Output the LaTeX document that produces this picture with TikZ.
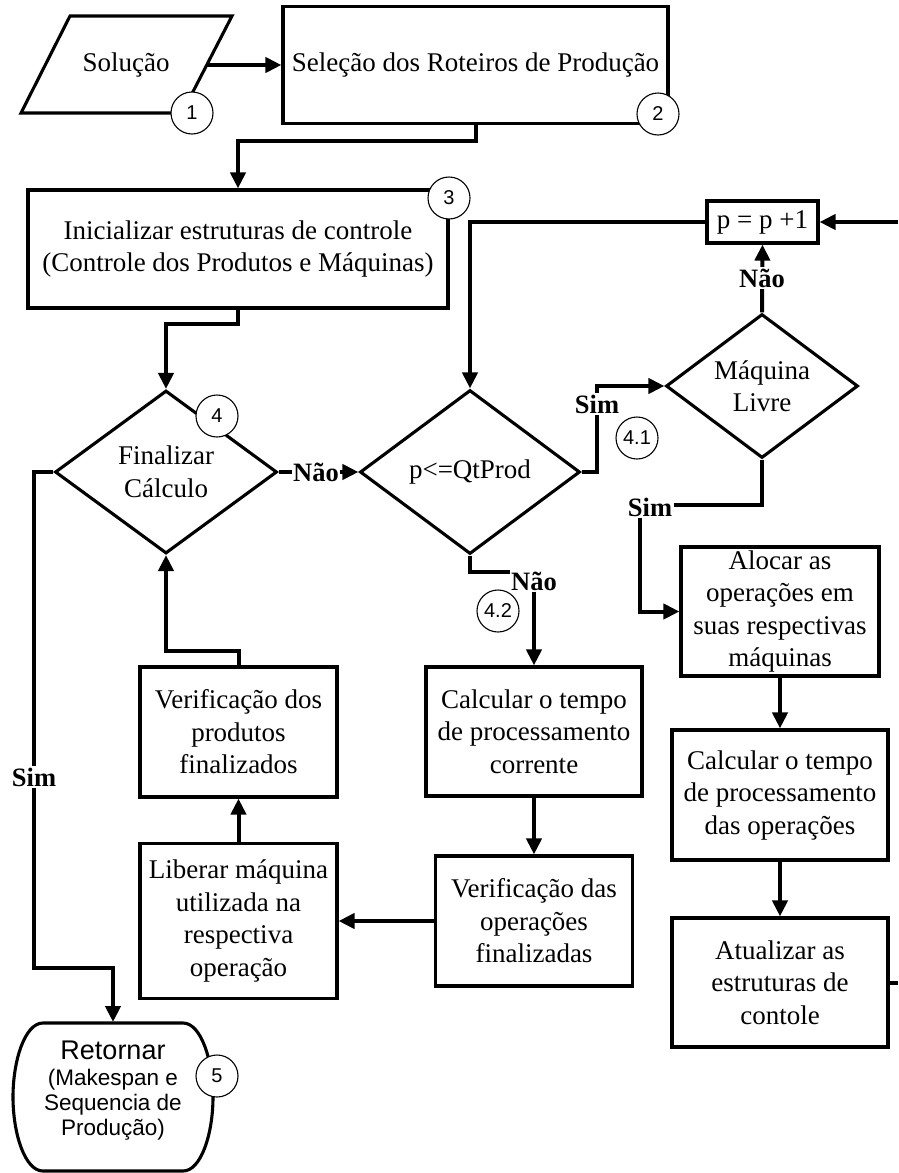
\documentclass[tikz,border=0pt]{standalone}
\usepackage{fontspec}
\setmainfont{Liberation Serif}
\setsansfont{Liberation Sans}
\usetikzlibrary{arrows.meta,shapes.geometric}
\begin{document}
\begin{tikzpicture}[x=1pt,y=-1pt,
  every node/.style={font=\fontsize{27}{32.5}\selectfont},
  stepbox/.style={draw, line width=3.1pt, rectangle, align=center, inner sep=0pt},
  decision/.style={draw, line width=3.1pt, diamond, align=center, inner sep=0pt},
  num/.style={draw, circle, line width=1.1pt, fill=white, minimum size=42pt, inner sep=0pt,
              font=\sffamily\fontsize{20}{20}\selectfont},
  lbl/.style={fill=white, inner sep=1.5pt, font=\bfseries\fontsize{26.5}{26.5}\selectfont},
  flow/.style={line width=4pt, -{Triangle[length=16pt,width=15pt]}},
  link/.style={line width=4pt},
  outline/.style={line width=3.1pt},
]
\useasboundingbox (0,0) rectangle (898,1173);

% --- input: parallelogram
\draw[outline] (70,16) -- (232,16) -- (182,113) -- (21,113) -- cycle;
\node (sol) at (126,65) {Solução};
\coordinate (solR) at (207,65);

% --- process boxes
\node[stepbox, minimum width=385pt, minimum height=117pt] (sel) at (475.5,65) {Seleção dos Roteiros de Produção};
\node[stepbox, minimum width=420pt, minimum height=118pt] (init) at (238,249)
  {Inicializar estruturas de controle\\(Controle dos Produtos e Máquinas)};
\node[stepbox, minimum width=197pt, minimum height=130pt] (verprod) at (238.5,732)
  {Verificação dos\\produtos\\finalizados};
\node[stepbox, minimum width=197pt, minimum height=155pt] (liberar) at (238.5,921)
  {Liberar máquina\\utilizada na\\respectiva\\operação};
\node[stepbox, minimum width=216pt, minimum height=129pt] (calc1) at (534,731.5)
  {Calcular o tempo\\de processamento\\corrente};
\node[stepbox, minimum width=197pt, minimum height=130pt] (verops) at (534,921)
  {Verificação das\\operações\\finalizadas};
\node[stepbox, minimum width=198pt, minimum height=129pt] (alocar) at (780,611.5)
  {Alocar as\\operações em\\suas respectivas\\máquinas};
\node[stepbox, minimum width=216pt, minimum height=130pt] (calc2) at (780,795)
  {Calcular o tempo\\de processamento\\das operações};
\node[stepbox, minimum width=216pt, minimum height=129pt] (atual) at (780,982.5)
  {Atualizar as\\estruturas de\\contole};
\node[stepbox, minimum width=111pt, minimum height=42pt] (pbox) at (762.5,222) {p = p +1};

% --- decisions
\node[decision, minimum width=222pt, minimum height=163pt, aspect=1.36] (d4) at (166,472)
  {Finalizar\\Cálculo};
\node[decision, minimum width=220pt, minimum height=164pt, aspect=1.34] (dp) at (470,472)
  {p<=QtProd};
\node[decision, minimum width=192pt, minimum height=144pt, aspect=1.33] (dm) at (762,386)
  {Máquina\\Livre};

% --- terminal
\draw[outline] (43,1023) -- (183,1023)
  .. controls (201,1023) and (213,1060) .. (213,1097)
  .. controls (213,1134) and (201,1171) .. (183,1171)
  -- (43,1171)
  .. controls (25,1171) and (13,1134) .. (13,1097)
  .. controls (13,1060) and (25,1023) .. (43,1023) -- cycle;
\node[align=center, inner sep=0pt, font=\sffamily\fontsize{22.5}{25}\selectfont] (ret) at (113,1091)
  {{\fontsize{27}{30}\selectfont Retornar}\\[1pt](Makespan e\\Sequencia de\\Produção)};
\coordinate (retN) at (113,1022);

% --- free ends at the page edge
\coordinate (edgeR) at (898,982.5);
\coordinate (edgeT) at (898,222);

% --- connectors
\draw[flow] (solR) -- (sel.west);
\draw[flow] (sel.south) |- (238,141) -- (init.north);
\draw[flow] (init.south) |- (166,324) -- (d4.north);
\draw[flow] (d4.east) -- (dp.west);
\draw[flow] (dp.east) -- (597,472) -- (597,386) -- (dm.west);
\draw[flow] (dm.north) -- (pbox.south);
\draw[flow] (dm.south) -- (762,505) -- (640,505) |- (alocar.west);
\draw[flow] (alocar.south) -- (calc2.north);
\draw[flow] (calc2.south) -- (atual.north);
\draw[link] (atual.east) -- (edgeR);
\draw[flow] (edgeT) -- (pbox.east);
\draw[flow] (pbox.west) -| (dp.north);
\draw[flow] (dp.south) |- (534,572) -- (calc1.north);
\draw[flow] (calc1.south) -- (verops.north);
\draw[flow] (verops.west) -- (liberar.east);
\draw[flow] (liberar.north) -- (verprod.south);
\draw[flow] (verprod.north) |- (166,651) -- (d4.south);
\draw[flow] (d4.west) -- (34,472) -- (34,968) -| (retN);

% --- branch labels
\node[lbl] (l1) at (316,472) {Não};
\node[lbl] (l2) at (597,404) {Sim};
\node[lbl] (l3) at (762,278) {Não};
\node[lbl] (l4) at (650,507) {Sim};
\node[lbl] (l5) at (534,581) {Não};
\node[lbl] (l6) at (34,777) {Sim};

% --- step numbers
\node[num] (c1) at (192,113) {1};
\node[num] (c2) at (658,114) {2};
\node[num] (c3) at (449,198) {3};
\node[num] (c4) at (217,416) {4};
\node[num] (c41) at (637,438) {4.1};
\node[num] (c42) at (498,611) {4.2};
\node[num] (c5) at (217,1076) {5};
\end{tikzpicture}
\end{document}
